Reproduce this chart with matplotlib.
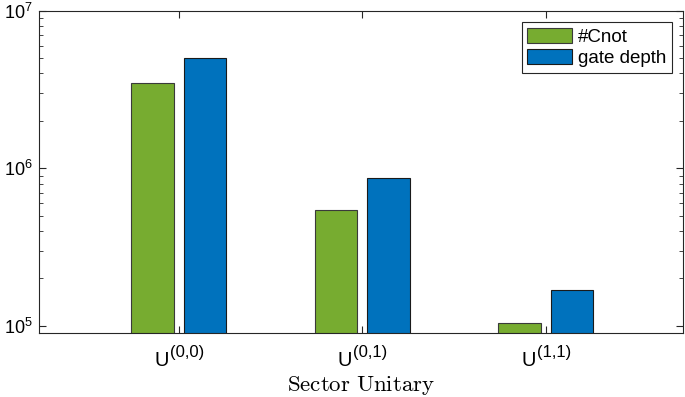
import numpy as np
import matplotlib
matplotlib.use("Agg")
import matplotlib.pyplot as plt
from matplotlib.ticker import LogLocator, NullFormatter, FixedLocator

plt.rcParams['font.family'] = ['Liberation Sans', 'DejaVu Sans']
plt.rcParams['mathtext.fontset'] = 'custom'
plt.rcParams['mathtext.rm'] = 'Liberation Sans'
plt.rcParams['mathtext.it'] = 'Liberation Sans:italic'
plt.rcParams['mathtext.bf'] = 'Liberation Sans:bold'

cat_base = ['U', 'U', 'U']
cat_sup = ['(0,0)', '(0,1)', '(1,1)']
cnot = [3.5e6, 5.45e5, 1.04e5]
depth = [5.0e6, 8.65e5, 1.68e5]
series_names = ['#Cnot', 'gate depth']
ytick_vals = [1e5, 1e6, 1e7]
ytick_labels = [r'$10^{5}$', r'$10^{6}$', r'$10^{7}$']

green = '#77AC30'
blue = '#0072BD'
axcol = '#262626'

fig = plt.figure(figsize=(6.85, 3.97), dpi=100)
ax = fig.add_axes([39.3/685, 1-332.7/397, (683-39.3)/685, (332.7-10.7)/397])

x = np.arange(1, len(cat_base)+1)
w = 0.23
off = 0.143
ax.bar(x - off, cnot, width=w, color=green, edgecolor='#3a3a3a', linewidth=0.8,
       label=series_names[0])
ax.bar(x + off, depth, width=w, color=blue, edgecolor='#1a1a1a', linewidth=0.8,
       label=series_names[1])

ax.set_yscale('log')
ax.set_ylim(9.06e4, 1e7)
ax.set_xlim(0.24, 3.748)

ax.yaxis.set_major_locator(FixedLocator(ytick_vals))
ax.set_yticklabels(ytick_labels, fontsize=13)
ax.yaxis.set_minor_locator(LogLocator(base=10, subs=np.arange(2, 10)))
ax.yaxis.set_minor_formatter(NullFormatter())

ax.set_xticks(x)
ax.set_xticklabels([''] * len(x))
trans = ax.get_xaxis_transform()
for xi, b, s in zip(x, cat_base, cat_sup):
    ax.annotate(b, xy=(xi, 0), xycoords=trans, xytext=(-24.7*0.72, -33.3*0.72),
                textcoords='offset points', ha='left', va='baseline', fontsize=14.5,
                annotation_clip=False)
    ax.annotate(s, xy=(xi, 0), xycoords=trans, xytext=(-8.9*0.72, -24.7*0.72),
                textcoords='offset points', ha='left', va='baseline', fontsize=12,
                annotation_clip=False)

ax.tick_params(axis='both', which='major', direction='in', length=5, width=0.8,
               color=axcol, labelcolor='black', top=True, right=True, pad=5)
ax.tick_params(axis='y', which='minor', direction='in', length=3, width=0.6,
               color=axcol, right=True)
for sp in ax.spines.values():
    sp.set_color(axcol)
    sp.set_linewidth(0.8)

ax.set_xlabel(r'$\mathrm{Sector\ Unitary}$', fontsize=16.5, math_fontfamily='cm')
ax.xaxis.set_label_coords(0.5, -0.127)

leg = ax.legend(loc='upper right', fontsize=13.5, fancybox=False, framealpha=1,
                edgecolor=axcol, handlelength=2.4, handleheight=0.85,
                handletextpad=0.3, borderaxespad=0.6, borderpad=0.3, labelspacing=0.2)
leg.get_frame().set_linewidth(0.8)

fig.savefig('out.png', dpi=100)
